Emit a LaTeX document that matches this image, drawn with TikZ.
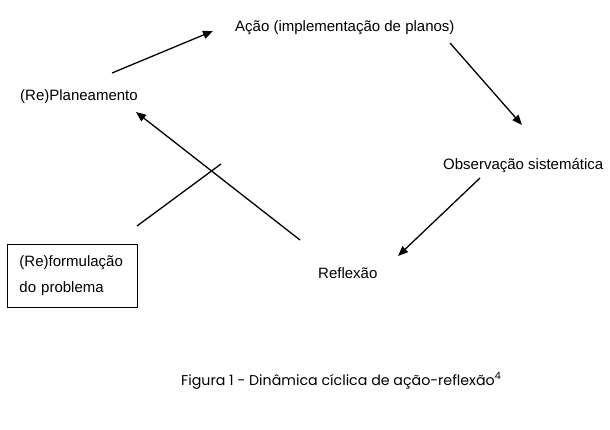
\documentclass[tikz,border=0pt]{standalone}
\usepackage{fontspec}
\setmainfont{Liberation Sans}
\newfontfamily\capfont{Poppins}
\usetikzlibrary{positioning, arrows.meta}

\begin{document}
\begin{tikzpicture}[
    x=1pt, y=-1pt,
    lbl/.style={inner sep=0pt, anchor=base west, font=\fontsize{15}{18}\selectfont},
    probbox/.style={rectangle, draw=black, line width=1pt, anchor=north west, text width=106pt, inner xsep=12pt, inner ysep=0pt, minimum height=63pt, align=left, font=\fontsize{15}{26}\selectfont},
    arrow/.style={-{Triangle[length=10pt, width=8pt]}, line width=1.3pt},
    plain/.style={line width=1.3pt}
  ]
    \useasboundingbox (0,0) rectangle (610,430);

    % Nodes
    \node[lbl] (acao) at (235,31.5) {Ação (implementação de planos)};
    \node[lbl] (plan) at (20,101) {(Re)Planeamento};
    \node[lbl] (obs) at (443,170) {Observação sistemática};
    \node[lbl] (refl) at (318,279) {Reflexão};
    \node[probbox] (prob) at (7,244) {(Re)formulação\\do problema};
    \node[inner sep=0pt, anchor=base west, font=\capfont\fontsize{14.2}{17}\selectfont] (fig) at (181,385) {Figura 1 - Dinâmica cíclica de ação-reflexão\textsuperscript{4}};

    % Arrow ends
    \coordinate (p1) at (112,73);
    \coordinate (q1) at (213,31);
    \coordinate (p2) at (450,43);
    \coordinate (q2) at (522,125);
    \coordinate (p3) at (480,178);
    \coordinate (q3) at (398,256);
    \coordinate (p4) at (300,240);
    \coordinate (q4) at (136,112);
    \coordinate (p5) at (137,226);
    \coordinate (q5) at (221,164);

    % Arrows
    \draw[arrow] (p1) -- (q1);
    \draw[arrow] (p2) -- (q2);
    \draw[arrow] (p3) -- (q3);
    \draw[arrow] (p4) -- (q4);
    \draw[plain] (p5) -- (q5);
\end{tikzpicture}
\end{document}
